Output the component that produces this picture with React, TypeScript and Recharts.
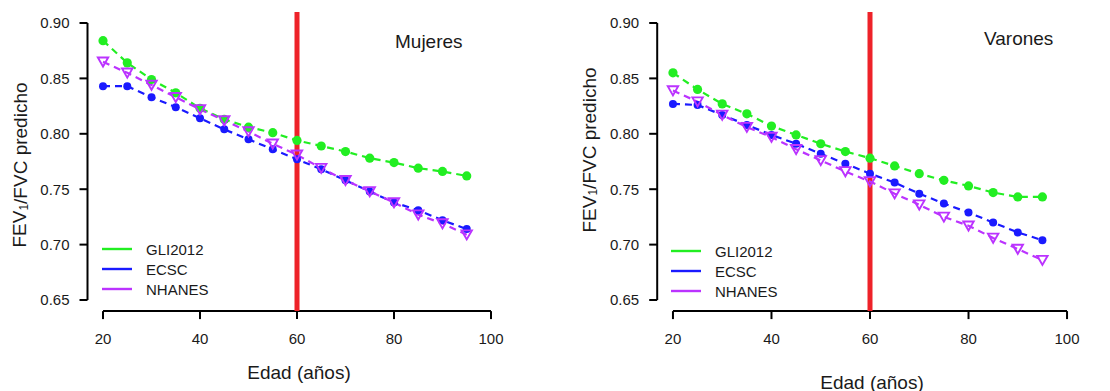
import { LineChart, Line, XAxis, YAxis, ReferenceLine } from 'recharts'

const ages = [20, 25, 30, 35, 40, 45, 50, 55, 60, 65, 70, 75, 80, 85, 90, 95]

// Mujeres
const gliMujeres = [0.884, 0.864, 0.849, 0.837, 0.823, 0.813, 0.806, 0.801, 0.794, 0.789, 0.784, 0.778, 0.774, 0.769, 0.766, 0.762]
const ecscMujeres = [0.843, 0.843, 0.833, 0.824, 0.814, 0.804, 0.795, 0.786, 0.777, 0.768, 0.758, 0.748, 0.738, 0.731, 0.722, 0.714]
const nhanesMujeres = [0.865, 0.855, 0.844, 0.833, 0.822, 0.812, 0.802, 0.791, 0.781, 0.769, 0.758, 0.748, 0.738, 0.727, 0.719, 0.709]

// Varones
const gliVarones = [0.855, 0.840, 0.827, 0.818, 0.807, 0.799, 0.791, 0.784, 0.778, 0.771, 0.764, 0.758, 0.753, 0.747, 0.743, 0.743]
const ecscVarones = [0.827, 0.826, 0.817, 0.808, 0.799, 0.791, 0.782, 0.773, 0.764, 0.756, 0.746, 0.737, 0.729, 0.720, 0.711, 0.704]
const nhanesVarones = [0.839, 0.829, 0.817, 0.806, 0.797, 0.786, 0.776, 0.766, 0.757, 0.746, 0.736, 0.725, 0.717, 0.706, 0.696, 0.686]

const xTicks = [20, 40, 60, 80, 100]
const yTicks = [0.65, 0.7, 0.75, 0.8, 0.85, 0.9]
const seriesNames = ['GLI2012', 'ECSC', 'NHANES']

const GREEN = '#22ee22'
const BLUE = '#1a1aff'
const PURPLE = '#bb33ff'
const RED = '#ee2229'
const FONT = '"Liberation Sans", Arial, sans-serif'
const TEXT = '#1a1a1a'

// R style: plot region is 4% wider than the axis ranges
const X_DOMAIN = [16.8, 103.2]
const Y_DOMAIN = [0.64, 0.91]

function TriangleDot(props: any) {
  const { cx, cy } = props
  if (cx == null || cy == null) return null
  return (
    <polygon
      points={`${cx - 5.2},${cy - 4.3} ${cx + 5.2},${cy - 4.3} ${cx},${cy + 4.8}`}
      fill="none"
      stroke={PURPLE}
      strokeWidth={1.9}
    />
  )
}

function LegendBox({ left, top }: { left: number; top: number }) {
  const colors = [GREEN, BLUE, PURPLE]
  return (
    <div style={{ position: 'absolute', left, top, fontFamily: FONT, fontSize: 15, color: TEXT }}>
      {seriesNames.map((n, i) => (
        <div key={n} style={{ display: 'flex', alignItems: 'center', height: 20 }}>
          <svg width={44} height={20}>
            <line x1={0} y1={10} x2={30} y2={10} stroke={colors[i]} strokeWidth={2.4} />
          </svg>
          <span>{n}</span>
        </div>
      ))}
    </div>
  )
}

interface PanelProps {
  width: number
  gli: number[]
  ecsc: number[]
  nhanes: number[]
  marginRight: number
  marginLeft: number
  yLabelY: number
  xLabelY: number
}

function Panel({ width, gli, ecsc, nhanes, marginRight, marginLeft, yLabelY, xLabelY }: PanelProps) {
  const data = ages.map((a, i) => ({ age: a, gli: gli[i], ecsc: ecsc[i], nhanes: nhanes[i] }))
  const plotLeft = marginLeft + 60
  const plotRight = width - marginRight
  return (
    <LineChart
      width={width}
      height={391}
      data={data}
      margin={{ top: 11.9, right: marginRight, bottom: 19.9, left: marginLeft }}
    >
      <XAxis
        type="number"
        dataKey="age"
        domain={X_DOMAIN}
        ticks={xTicks}
        allowDataOverflow
        height={60}
        axisLine={false}
        tickLine={{ stroke: '#000', strokeWidth: 2 }}
        tickSize={8}
        tickMargin={14}
        tick={{ fill: TEXT, fontSize: 15, fontFamily: FONT }}
        label={{
          content: () => (
            <text
              x={(plotLeft + plotRight) / 2 + 2}
              y={xLabelY}
              textAnchor="middle"
              dominantBaseline="central"
              fill={TEXT}
              fontSize={19}
              fontFamily={FONT}
            >
              Edad (años)
            </text>
          ),
        }}
      />
      <YAxis
        type="number"
        domain={Y_DOMAIN}
        ticks={yTicks}
        allowDataOverflow
        width={60}
        axisLine={false}
        tickLine={{ stroke: '#000', strokeWidth: 2 }}
        tickSize={8}
        tickMargin={10}
        tickFormatter={(v: number) => v.toFixed(2)}
        tick={{ fill: TEXT, fontSize: 15, fontFamily: FONT }}
        label={{
          content: () => (
            <text
              x={marginLeft - 8}
              y={yLabelY}
              transform={`rotate(-90 ${marginLeft - 8} ${yLabelY})`}
              textAnchor="middle"
              dominantBaseline="central"
              fill={TEXT}
              fontSize={19}
              fontFamily={FONT}
            >
              FEV<tspan fontSize={12} dy={4}>1</tspan>
              <tspan dy={-4}>/FVC predicho</tspan>
            </text>
          ),
        }}
      />
      <ReferenceLine
        segment={[{ x: 16.8, y: 0.65 }, { x: 16.8, y: 0.9 }]}
        stroke="#000"
        strokeWidth={2}
        ifOverflow="visible"
      />
      <ReferenceLine
        segment={[{ x: 20, y: 0.64 }, { x: 100, y: 0.64 }]}
        stroke="#000"
        strokeWidth={2}
        ifOverflow="visible"
      />
      <ReferenceLine x={60} stroke={RED} strokeWidth={5} />
      <Line
        dataKey="gli"
        name="GLI2012"
        stroke={GREEN}
        strokeWidth={2.2}
        strokeDasharray="7 5"
        dot={{ r: 4.6, fill: GREEN, stroke: 'none' }}
        isAnimationActive={false}
      />
      <Line
        dataKey="ecsc"
        name="ECSC"
        stroke={BLUE}
        strokeWidth={2.2}
        strokeDasharray="7 5"
        dot={{ r: 4, fill: BLUE, stroke: 'none' }}
        isAnimationActive={false}
      />
      <Line
        dataKey="nhanes"
        name="NHANES"
        stroke={PURPLE}
        strokeWidth={2.2}
        strokeDasharray="7 5"
        dot={<TriangleDot />}
        isAnimationActive={false}
      />
    </LineChart>
  )
}

export default function App() {
  return (
    <div style={{ position: 'absolute', left: 0, top: 0, width: 1110, height: 391, background: '#fff' }}>
      <div style={{ position: 'absolute', left: 0, top: 0 }}>
        <Panel
          width={560}
          gli={gliMujeres}
          ecsc={ecscMujeres}
          nhanes={nhanesMujeres}
          marginLeft={27.5}
          marginRight={53.5}
          yLabelY={165}
          xLabelY={372}
        />
      </div>
      <div style={{ position: 'absolute', left: 560, top: 0 }}>
        <Panel
          width={550}
          gli={gliVarones}
          ecsc={ecscVarones}
          nhanes={nhanesVarones}
          marginLeft={37.2}
          marginRight={27.2}
          yLabelY={150}
          xLabelY={382}
        />
      </div>
      <LegendBox left={102} top={239} />
      <LegendBox left={671} top={241} />
      <div style={{ position: 'absolute', left: 395, top: 31, fontFamily: FONT, fontSize: 19, color: TEXT }}>
        Mujeres
      </div>
      <div style={{ position: 'absolute', left: 984, top: 28, fontFamily: FONT, fontSize: 19, color: TEXT }}>
        Varones
      </div>
    </div>
  )
}
